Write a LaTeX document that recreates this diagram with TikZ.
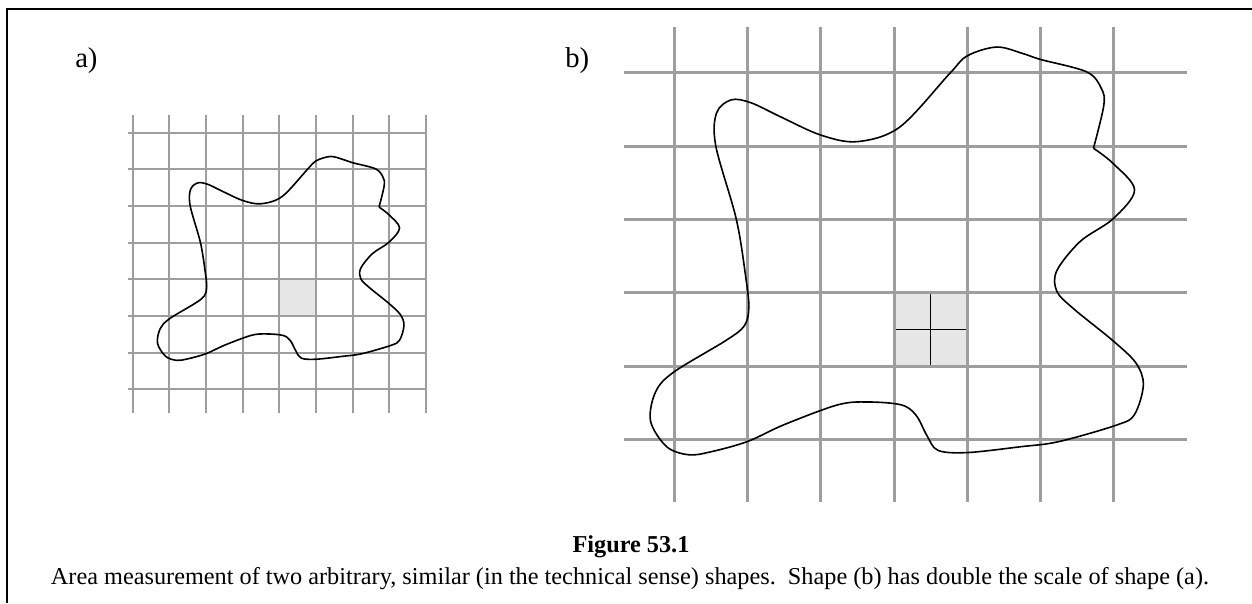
\documentclass[tikz,border=0pt]{standalone}
\usepackage{fontspec}
\setmainfont{Liberation Serif}
\usetikzlibrary{positioning}
\definecolor{gridgray}{HTML}{9E9E9E}
\definecolor{cellgray}{HTML}{E6E6E6}

% the arbitrary shape, in grid units of its own panel
\newcommand{\blobshape}[1]{%
  \draw[#1] plot[smooth, tension=0.55] coordinates {
    (2.72,1.97) (2.99,1.76) (3.28,1.40) (2.99,1.01) (2.54,0.70) (2.22,0.30)
    (2.22,0.02) (2.45,-0.22) (2.98,-0.65) (3.30,-0.96) (3.40,-1.26)
    (3.28,-1.66) (3.05,-1.80) (2.25,-2.03) (1.73,-2.10) (1.00,-2.18)
    (0.60,-2.15) (0.45,-1.95) (0.30,-1.67) (0.10,-1.53) (-0.36,-1.49)
    (-0.77,-1.53) (-1.50,-1.80) (-2.00,-2.03) (-2.50,-2.17) (-2.80,-2.21)
    (-3.10,-2.10) (-3.32,-1.75) (-3.25,-1.35) (-3.00,-1.08) (-2.29,-0.65)
    (-2.04,-0.45) (-1.98,-0.20) (-2.02,0.20) (-2.15,1.00) (-2.43,2.00)
    (-2.42,2.45) (-2.22,2.63) (-1.95,2.59) (-1.55,2.40) (-1.00,2.15)
    (-0.50,2.06) (0.08,2.26) (0.76,2.99) (1.00,3.23) (1.40,3.35) (1.76,3.26)
    (2.00,3.18) (2.63,3.01) (2.83,2.78) (2.86,2.55) (2.72,1.97)};}

\begin{document}
\begin{tikzpicture}[x=0.75pt, y=-0.75pt,
    gridA/.style={gridgray, line width=1.5pt},
    gridB/.style={gridgray, line width=2.25pt},
    blob/.style={black, line width=1.2pt, line join=round},
    panel/.style={inner sep=0pt, font=\fontsize{21.5}{26}\selectfont},
    captext/.style={inner sep=0pt, font=\fontsize{18.2}{22}\selectfont}]
    \useasboundingbox (0,0) rectangle (1252,603);

    % frame
    \draw[line width=1.5pt] (6.5,603) -- (6.5,9) -- (1252,9);

    % panel a
    \node[panel, anchor=base west] (labela) at (75,67) {a)};
    \fill[cellgray] (279.3,279.3) rectangle (316,316);
    \foreach \i in {0,...,8}
      \draw[gridA] ({132.7+36.67*\i},115) -- ({132.7+36.67*\i},413);
    \foreach \j in {0,...,7}
      \draw[gridA] (128.3,{132.7+36.67*\j}) -- (426,{132.7+36.67*\j});
    \begin{scope}[shift={(279.3,279.3)}, x=27.5pt, y=27.5pt]
      \blobshape{blob}
    \end{scope}

    % panel b, twice the scale
    \node[panel, anchor=base west] (labelb) at (565,67) {b)};
    \fill[cellgray] (894,292.7) rectangle (967.3,366);
    \draw[line width=1pt] (930.7,292.7) -- (930.7,366);
    \draw[line width=1pt] (894,329.3) -- (967.3,329.3);
    \foreach \i in {0,...,6}
      \draw[gridB] ({674+73.33*\i},26.7) -- ({674+73.33*\i},501.7);
    \foreach \j in {0,...,5}
      \draw[gridB] (624,{72.7+73.33*\j}) -- (1186.7,{72.7+73.33*\j});
    \begin{scope}[shift={(894,292.7)}, x=55pt, y=55pt]
      \blobshape{blob}
    \end{scope}

    % caption
    \node[captext, font=\fontsize{18.2}{22}\selectfont\bfseries, anchor=base] (figtitle) at (631,552) {Figure 53.1};
    \node[captext, anchor=base] (figcaption) at (630,584) {Area measurement of two arbitrary, similar (in the technical sense) shapes.~~Shape (b) has double the scale of shape (a).};
  \end{tikzpicture}
\end{document}
